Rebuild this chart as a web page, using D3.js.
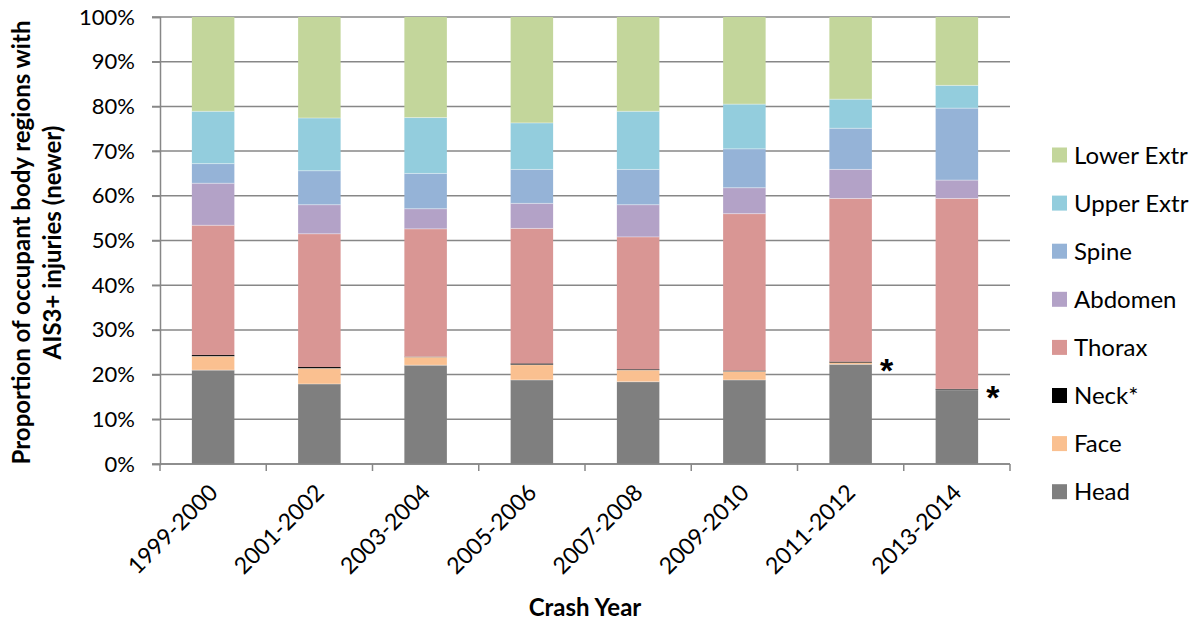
<!DOCTYPE html>
<html>
<head>
<meta charset="utf-8">
<script src="https://cdn.jsdelivr.net/npm/d3@7"></script>
<style>
  body { margin: 0; background: #fff; }
  svg { display: block; font-family: Lato, 'Open Sans', sans-serif; }
</style>
</head>
<body>
<svg id="chart" width="1198" height="626"></svg>
<script>
// values, percent of AIS3+ body regions
const categories = ['1999-2000', '2001-2002', '2003-2004', '2005-2006', '2007-2008', '2009-2010', '2011-2012', '2013-2014'];
const head      = [21.0, 17.9, 22.1, 18.8, 18.4, 18.8, 22.3, 16.6];
const face      = [3.1, 3.5, 1.8, 3.4, 2.6, 1.9, 0.4, 0.0];
const neck      = [0.3, 0.3, 0.1, 0.3, 0.2, 0.2, 0.2, 0.2];
const thorax    = [29.0, 29.8, 28.6, 30.2, 29.6, 35.1, 36.5, 42.6];
const abdomen   = [9.4, 6.5, 4.5, 5.6, 7.2, 5.8, 6.5, 4.1];
const spine     = [4.4, 7.6, 7.9, 7.6, 7.9, 8.7, 9.2, 16.1];
const upperExtr = [11.7, 11.8, 12.5, 10.4, 13.0, 10.0, 6.5, 5.1];
const lowerExtr = [21.1, 22.6, 22.5, 23.7, 21.1, 19.5, 18.4, 15.3];
const seriesNames = ['Head', 'Face', 'Neck*', 'Thorax', 'Abdomen', 'Spine', 'Upper Extr', 'Lower Extr'];
const yTicks = [0, 10, 20, 30, 40, 50, 60, 70, 80, 90, 100];
const starred = ['2011-2012', '2013-2014'];

const colors = ['#7f7f7f', '#fac090', '#000000', '#d99694', '#b3a2c7', '#95b3d7', '#93cddd', '#c3d69b'];
const seriesValues = [head, face, neck, thorax, abdomen, spine, upperExtr, lowerExtr];

const rows = categories.map((c, i) => {
    const r = { cat: c };
    seriesNames.forEach((s, j) => { r[s] = seriesValues[j][i]; });
    return r;
});

const margin = { left: 160, right: 188, top: 17, bottom: 162 };
const width = 1198, height = 626;
const svg = d3.select('#chart');

const x = d3.scaleBand()
    .domain(categories)
    .range([margin.left, width - margin.right])
    .paddingInner(0.6)
    .paddingOuter(0.3);

const y = d3.scaleLinear()
    .domain([0, 100])
    .range([height - margin.bottom, margin.top]);

const axisColor = '#878787';

// gridlines
svg.append('g')
    .selectAll('line')
    .data(yTicks)
    .enter()
    .append('line')
    .attr('x1', margin.left - 8)
    .attr('x2', width - margin.right)
    .attr('y1', d => y(d))
    .attr('y2', d => y(d))
    .attr('stroke', axisColor)
    .attr('stroke-width', 1.5);

// stacked bars
const stack = d3.stack().keys(seriesNames)(rows);
svg.append('g')
    .selectAll('g')
    .data(stack)
    .enter()
    .append('g')
    .attr('fill', (d, i) => colors[i])
    .selectAll('rect')
    .data(d => d)
    .enter()
    .append('rect')
    .attr('x', d => x(d.data.cat))
    .attr('width', x.bandwidth())
    .attr('y', d => y(d[1]))
    .attr('height', d => y(d[0]) - y(d[1]));

// thin light separators between segments
svg.append('g')
    .selectAll('g')
    .data(stack.filter(s => s.key !== 'Neck*'))
    .enter()
    .append('g')
    .selectAll('line')
    .data(d => d.filter(p => p[1] - p[0] > 0.5 && p[1] < 100))
    .enter()
    .append('line')
    .attr('x1', d => x(d.data.cat))
    .attr('x2', d => x(d.data.cat) + x.bandwidth())
    .attr('y1', d => y(d[1]))
    .attr('y2', d => y(d[1]))
    .attr('stroke', '#fff')
    .attr('stroke-opacity', 0.5)
    .attr('stroke-width', 0.8);

// y axis
const yAxis = d3.axisLeft(y)
    .tickValues(yTicks)
    .tickFormat(d => d + '%')
    .tickSize(8)
    .tickPadding(17);
const gy = svg.append('g')
    .attr('transform', `translate(${margin.left},0)`)
    .call(yAxis);
gy.select('.domain').attr('stroke', axisColor).attr('stroke-width', 1.5);
gy.selectAll('.tick line').attr('stroke', axisColor).attr('stroke-width', 1.5);
gy.selectAll('.tick text')
    .attr('fill', '#000')
    .style('font-size', '22px')
    .style('font-family', 'Lato, sans-serif');

// x axis line and ticks at band boundaries
const x0 = margin.left, x1 = width - margin.right, yBase = y(0);
svg.append('line')
    .attr('x1', x0).attr('x2', x1)
    .attr('y1', yBase).attr('y2', yBase)
    .attr('stroke', axisColor).attr('stroke-width', 1.5);
const step = x.step();
svg.append('g')
    .selectAll('line')
    .data(d3.range(categories.length + 1))
    .enter()
    .append('line')
    .attr('x1', i => x0 + i * step)
    .attr('x2', i => x0 + i * step)
    .attr('y1', yBase)
    .attr('y2', yBase + 7)
    .attr('stroke', axisColor)
    .attr('stroke-width', 1.5);

// category labels
svg.append('g')
    .selectAll('text')
    .data(categories)
    .enter()
    .append('text')
    .attr('transform', d => `translate(${x(d) + x.bandwidth() / 2 + 6},${yBase + 30}) rotate(-45)`)
    .attr('text-anchor', 'end')
    .style('font-size', '23px')
    .text(d => d);

// asterisks next to the neck slices
svg.append('g')
    .selectAll('text')
    .data(rows.filter(r => starred.includes(r.cat)))
    .enter()
    .append('text')
    .attr('x', d => x(d.cat) + x.bandwidth() + 8)
    .attr('y', d => y(d.Head + d.Face + d['Neck*']) + 20)
    .style('font-family', "'Liberation Sans', Arial, sans-serif")
    .style('font-size', '34px')
    .style('font-weight', 'bold')
    .text('*');

// axis titles
svg.append('text')
    .attr('x', (x0 + x1) / 2)
    .attr('y', 616)
    .attr('text-anchor', 'middle')
    .style('font-size', '24px')
    .style('font-weight', 'bold')
    .text('Crash Year');

const yTitle = svg.append('text')
    .attr('transform', `translate(30,${(y(0) + y(100)) / 2 + 2}) rotate(-90)`)
    .attr('text-anchor', 'middle')
    .style('font-size', '24px')
    .style('font-weight', 'bold');
yTitle.append('tspan').attr('x', 0).attr('dy', 0).text('Proportion of occupant body regions with');
yTitle.append('tspan').attr('x', 0).attr('dy', 31).text('AIS3+ injuries (newer)');

// legend, top entry is the top of the stack
const legend = svg.append('g')
    .selectAll('g')
    .data(seriesNames.slice().reverse())
    .enter()
    .append('g')
    .attr('transform', (d, i) => `translate(1052,${155 + i * 48.1})`);
legend.append('rect')
    .attr('x', 0).attr('y', -7.5)
    .attr('width', 15).attr('height', 15)
    .attr('fill', d => colors[seriesNames.indexOf(d)]);
legend.append('text')
    .attr('x', 22)
    .attr('y', 8.5)
    .style('font-size', '24px')
    .text(d => d);
</script>
</body>
</html>
